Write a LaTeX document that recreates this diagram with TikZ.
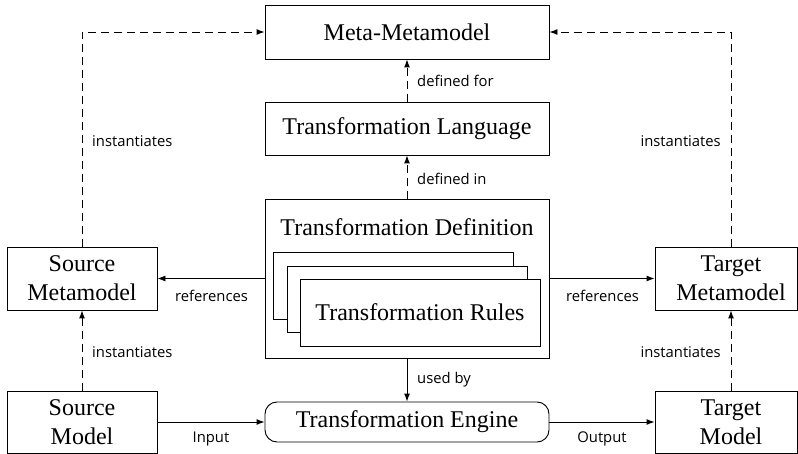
\documentclass[tikz,border=0pt]{standalone}
\usepackage{fontspec}
\setmainfont{Liberation Serif}
\newfontfamily\labelfont{Open Sans}
\usetikzlibrary{arrows.meta}
\begin{document}
\begin{tikzpicture}[x=1pt,y=-1pt,
 box/.style={draw, line width=0.95pt, inner sep=0pt, font=\fontsize{24}{29}\selectfont, align=center},
 txt/.style={inner sep=0pt, font=\fontsize{24}{29}\selectfont, align=center},
 lbl/.style={inner sep=0pt, font=\labelfont\fontsize{14.8}{18}\selectfont},
 conn/.style={line width=0.95pt, -{Latex[length=8pt,width=6pt]}},
 dconn/.style={conn, dash pattern=on 8pt off 5pt}]
\useasboundingbox (0,0) rectangle (798,454);
\node[box, minimum width=284pt, minimum height=54pt] (meta) at (407,32) {Meta-Metamodel};
\node[box, minimum width=284pt, minimum height=53pt] (lang) at (407,128.5) {Transformation Language};
\node[box, minimum width=284pt, minimum height=159pt] (def) at (407,278.5) {};
\node[txt] (deftxt) at (407,227) {Transformation Definition};
\node[box, fill=white, minimum width=240pt, minimum height=67pt] (r1) at (393,285.5) {};
\node[box, fill=white, minimum width=240pt, minimum height=66pt] (r2) at (407,299) {};
\node[box, fill=white, minimum width=240pt, minimum height=67pt] (r3) at (420,312.5) {Transformation Rules};
\node[box, minimum width=150pt, minimum height=63pt] (srcmm) at (82,278.5) {Source\\Metamodel};
\node[box, minimum width=150pt, minimum height=62pt] (srcm) at (82,422) {Source\\Model};
\node[box, rounded corners=12pt, minimum width=284pt, minimum height=40pt] (eng) at (407,422) {Transformation Engine};
\node[box, minimum width=142pt, minimum height=63pt] (tgtmm) at (726,278.5) {};
\node[txt] (tgtmmtxt) at (731,278.5) {Target\\Metamodel};
\node[box, minimum width=142pt, minimum height=62pt] (tgtm) at (726,422) {};
\node[txt] (tgtmtxt) at (731,422) {Target\\Model};

\draw[dconn] (srcmm.north) |- (meta.west);
\draw[dconn] ([xshift=5pt]tgtmm.north) |- (meta.east);
\draw[dconn] (lang.north) -- (meta.south);
\draw[dconn] (def.north) -- (lang.south);
\draw[conn] (def.west) -- (srcmm.east);
\draw[conn] (def.east) -- (tgtmm.west);
\draw[dconn] (srcm.north) -- (srcmm.south);
\draw[dconn] ([xshift=5pt]tgtm.north) -- ([xshift=5pt]tgtmm.south);
\draw[conn] (def.south) -- (eng.north);
\draw[conn] (srcm.east) -- (eng.west);
\draw[conn] (eng.east) -- (tgtm.west);

\node[lbl, anchor=base west] (l1) at (92,146.5) {instantiates};
\node[lbl, anchor=base east] (l2) at (721,146.5) {instantiates};
\node[lbl, anchor=base west] (l3) at (417,87) {defined for};
\node[lbl, anchor=base west] (l4) at (417,185) {defined in};
\node[lbl, anchor=base] (l5) at (211.5,301.5) {references};
\node[lbl, anchor=base] (l6) at (602.5,301.5) {references};
\node[lbl, anchor=base west] (l7) at (92,357.5) {instantiates};
\node[lbl, anchor=base east] (l8) at (721,357.5) {instantiates};
\node[lbl, anchor=base west] (l9) at (417,384) {used by};
\node[lbl, anchor=base] (l10) at (211,442.5) {Input};
\node[lbl, anchor=base] (l11) at (602,442.5) {Output};
\end{tikzpicture}
\end{document}
